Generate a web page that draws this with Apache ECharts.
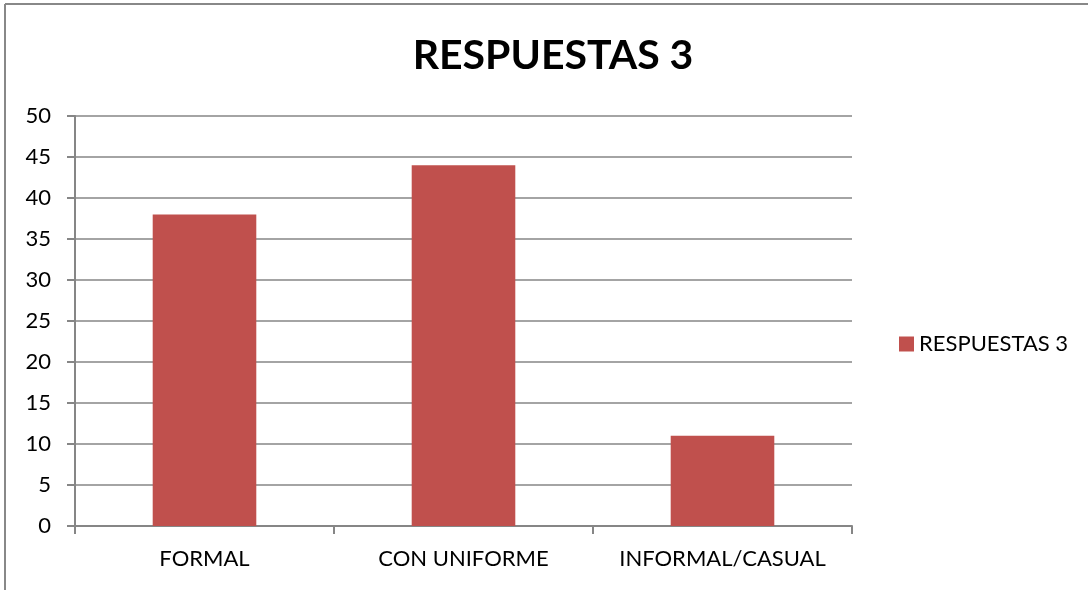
<!DOCTYPE html>
<html>
<head>
<meta charset="utf-8">
<script src="https://cdn.jsdelivr.net/npm/echarts@6/dist/echarts.min.js"></script>
<style>
  html, body { margin: 0; padding: 0; background: #fff; }
  #chart { width: 1088px; height: 590px; }
</style>
</head>
<body>
<div id="chart"></div>
<script>
'use strict';

// categorias y valores
var categories = ['FORMAL', 'CON UNIFORME', 'INFORMAL/CASUAL'];
var seriesName = 'RESPUESTAS 3';
var values = [38, 44, 11];

var chart = echarts.init(document.getElementById('chart'));
var fontFam = 'Lato, "Open Sans", sans-serif';

chart.setOption({
  animation: false,
  color: ['#C0504D'],
  title: {
    text: 'RESPUESTAS 3',
    left: 548,
    top: 30,
    textAlign: 'center',
    textStyle: { fontFamily: fontFam, fontSize: 41, fontWeight: 'bold', color: '#000' }
  },
  legend: {
    left: 894,
    top: 328,
    itemWidth: 15,
    itemHeight: 15,
    itemGap: 8,
    icon: 'rect',
    textStyle: { fontFamily: fontFam, fontSize: 22, color: '#000' },
    data: [seriesName]
  },
  grid: { left: 75, right: 236, top: 116, bottom: 64, containLabel: false },
  xAxis: {
    type: 'category',
    data: categories,
    axisLine: { lineStyle: { color: '#868686', width: 2 } },
    axisTick: { show: true, length: 8, lineStyle: { color: '#868686', width: 2 } },
    axisLabel: { interval: 0, margin: 22, fontFamily: fontFam, fontSize: 22, color: '#000' }
  },
  yAxis: {
    type: 'value',
    min: 0,
    max: 50,
    interval: 5,
    axisLine: { show: true, lineStyle: { color: '#868686', width: 2 } },
    axisTick: { show: true, length: 8, lineStyle: { color: '#868686', width: 2 } },
    splitLine: { lineStyle: { color: '#868686', width: 1.5 } },
    axisLabel: { margin: 24, fontFamily: fontFam, fontSize: 22, color: '#000' }
  },
  graphic: [
    { type: 'line', shape: { x1: 5, y1: 4, x2: 1088, y2: 4 }, style: { stroke: '#888', lineWidth: 2 } },
    { type: 'line', shape: { x1: 5, y1: 4, x2: 5, y2: 590 }, style: { stroke: '#888', lineWidth: 2 } }
  ],
  series: [{
    name: seriesName,
    type: 'bar',
    barWidth: '40%',
    data: values
  }]
});
</script>
</body>
</html>
